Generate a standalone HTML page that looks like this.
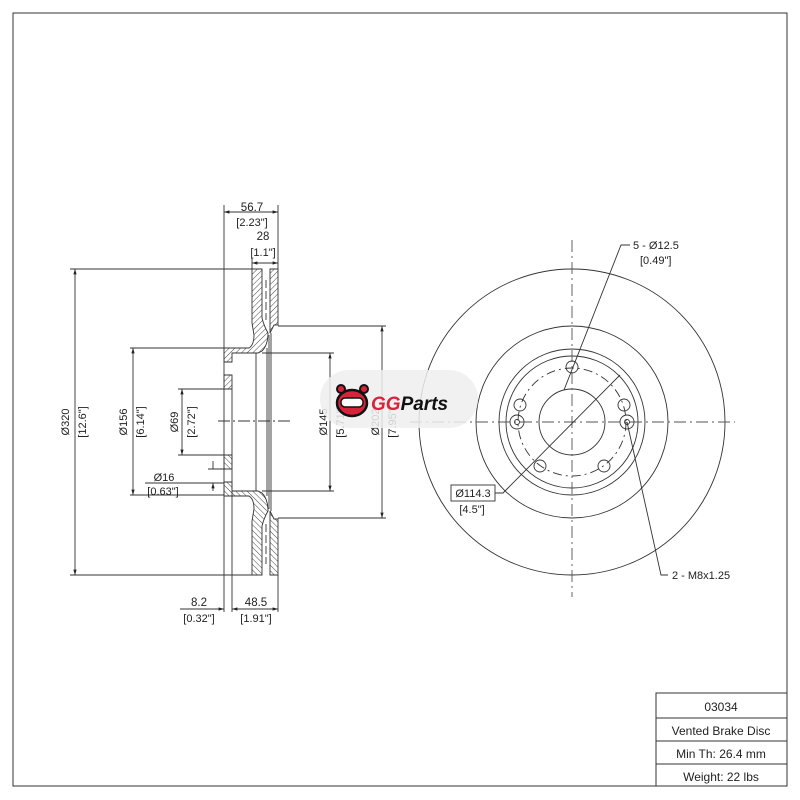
<!DOCTYPE html>
<html><head><meta charset="utf-8"><style>
html,body{margin:0;padding:0;background:#fff;}
svg{display:block;}
text{font-family:"Liberation Sans",sans-serif;fill:#222;}
</style></head><body>
<svg width="800" height="800" viewBox="0 0 800 800" xmlns="http://www.w3.org/2000/svg" font-size="11">
<defs>
<pattern id="h" patternUnits="userSpaceOnUse" width="4" height="4" patternTransform="rotate(45)">
<line x1="0" y1="0" x2="0" y2="4" stroke="#333" stroke-width="0.9"/>
</pattern>
<marker id="a" viewBox="0 0 10 10" refX="10" refY="5" markerWidth="6" markerHeight="6" orient="auto-start-reverse"><path d="M0,2 L10,5 L0,8z" fill="#222"/></marker>
</defs>
<rect x="13" y="13" width="774" height="773" fill="none" stroke="#333" stroke-width="1"/>
<g stroke="#333" fill="none" stroke-width="1">
<path d="M656,786 V693 H787 M656,718 H787 M656,741 H787 M656,764 H787"/>
</g>
<text x="721" y="711" text-anchor="middle" font-size="12">03034</text>
<text x="721" y="735" text-anchor="middle" font-size="12">Vented Brake Disc</text>
<text x="721" y="758" text-anchor="middle" font-size="12">Min Th: 26.4 mm</text>
<text x="721" y="781" text-anchor="middle" font-size="12">Weight: 22 lbs</text>

<g stroke="#333" stroke-width="0.9" fill="none">
<path d="M224,205 V612 M232,389 V612 M278,205 V269 M278,575 V612 M252,258 V269"/>
<path d="M70,269 H252 M70,575 H252 M130,348 H224 M130,495 H224 M178,389 H224 M178,455 H224 M145,483 H224 M208,469 H224"/>
<path d="M262,353 H334 M262,491 H334 M278,326 H386 M278,518 H386"/>
<path d="M256,353 V491 M267,348 V496 M269,335 V509 M271,333 V511"/>
<path d="M218,421 H290" stroke-dasharray="12,3,2,3"/>
<path d="M266,280 V320 M266,524 V564" stroke-dasharray="8,3"/>
<path d="M224,212 H278" marker-start="url(#a)" marker-end="url(#a)"/>
<path d="M252,263 H278" marker-start="url(#a)" marker-end="url(#a)"/>
<path d="M75,269 V575" marker-start="url(#a)" marker-end="url(#a)"/>
<path d="M133,348 V495" marker-start="url(#a)" marker-end="url(#a)"/>
<path d="M182,389 V455" marker-start="url(#a)" marker-end="url(#a)"/>
<path d="M213,461 V469 M213,491 V483" marker-end="url(#a)"/>
<path d="M330,353 V491" marker-start="url(#a)" marker-end="url(#a)"/>
<path d="M382,326 V518" marker-start="url(#a)" marker-end="url(#a)"/>
<path d="M180,609 H224" marker-end="url(#a)"/>
<path d="M232,609 H278" marker-start="url(#a)" marker-end="url(#a)"/>
</g>
<g stroke="#333" stroke-width="0.9" fill="url(#h)">
<g>
<path d="M252,269 H262 V318 Q264,326 268,333 Q268,345 262,351 L258,353 H232 V362 H224 V348 H249 Q254,345 254,335 L252,323 Z"/>
<path d="M224,375 H232 V389 H224 Z"/>
<path d="M270,269 H278 V325 H274 L270,333 Z"/>
</g>
<g transform="translate(0,844) scale(1,-1)">
<path d="M252,269 H262 V318 Q264,326 268,333 Q268,345 262,351 L258,353 H232 V362 H224 V348 H249 Q254,345 254,335 L252,323 Z"/>
<path d="M224,375 H232 V389 H224 Z"/>
<path d="M270,269 H278 V325 H274 L270,333 Z"/>
</g>
</g>
<text x="252" y="211" text-anchor="middle" font-size="11.5">56.7</text>
<text x="252" y="226" text-anchor="middle">[2.23"]</text>
<text x="263" y="240" text-anchor="middle" font-size="11.5">28</text>
<text x="263" y="256" text-anchor="middle">[1.1"]</text>
<text transform="translate(69,422) rotate(-90)" text-anchor="middle">Ø320</text>
<text transform="translate(86,422) rotate(-90)" text-anchor="middle">[12.6"]</text>
<text transform="translate(127,422) rotate(-90)" text-anchor="middle">Ø156</text>
<text transform="translate(144,422) rotate(-90)" text-anchor="middle">[6.14"]</text>
<text transform="translate(178,422) rotate(-90)" text-anchor="middle">Ø69</text>
<text transform="translate(195,422) rotate(-90)" text-anchor="middle">[2.72"]</text>
<text x="164" y="481" text-anchor="middle">Ø16</text>
<text x="163" y="495" text-anchor="middle">[0.63"]</text>
<text transform="translate(327,422) rotate(-90)" text-anchor="middle">Ø145</text>
<text transform="translate(344,422) rotate(-90)" text-anchor="middle">[5.71"]</text>
<text transform="translate(379,422) rotate(-90)" text-anchor="middle">Ø202</text>
<text transform="translate(396,422) rotate(-90)" text-anchor="middle">[7.95"]</text>
<text x="199" y="606" text-anchor="middle" font-size="11.5">8.2</text>
<text x="199" y="622" text-anchor="middle">[0.32"]</text>
<text x="256" y="606" text-anchor="middle" font-size="11.5">48.5</text>
<text x="256" y="622" text-anchor="middle">[1.91"]</text>

<g stroke="#333" stroke-width="0.9" fill="none">
<circle cx="572" cy="422" r="153"/>
<circle cx="572" cy="422" r="96"/>
<circle cx="572" cy="422" r="73"/>
<circle cx="572" cy="422" r="66"/>
<circle cx="572" cy="422" r="54" stroke-dasharray="9,4,2,4"/>
<circle cx="572" cy="422" r="33"/>
<circle cx="572" cy="367" r="6"/>
<circle cx="624" cy="405" r="6"/>
<circle cx="520" cy="405" r="6"/>
<circle cx="540" cy="466" r="6"/>
<circle cx="604" cy="466" r="6"/>
<circle cx="517" cy="422" r="7"/><circle cx="517" cy="422" r="2.5"/>
<circle cx="627" cy="422" r="7"/><circle cx="627" cy="422" r="2.5"/>
<path d="M572,240 V597 M410,422 H735" stroke-dasharray="12,4,2,4" stroke="#555"/>
<path d="M630,245 H621 L564,390"/>
<path d="M668,575 H661 L627,422"/>
<path d="M495,493 H503 L620,375"/>
<rect x="451" y="485" width="44" height="16"/>
</g>
<text x="633" y="249">5 - Ø12.5</text>
<text x="640" y="264">[0.49"]</text>
<text x="672" y="579">2 - M8x1.25</text>
<text x="473" y="497" text-anchor="middle">Ø114.3</text>
<text x="472" y="513" text-anchor="middle">[4.5"]</text>

<rect x="320" y="370" width="158" height="58" rx="29" fill="#eee" opacity="0.85"/>
<ellipse cx="352" cy="403" rx="15" ry="13" fill="#d8243a" stroke="#111" stroke-width="2.5"/>
<circle cx="341" cy="389" r="4" fill="#d8243a" stroke="#111" stroke-width="2"/>
<circle cx="364" cy="389" r="4" fill="#d8243a" stroke="#111" stroke-width="2"/>
<rect x="341" y="398" width="22" height="9" rx="4" fill="#fff" stroke="#111" stroke-width="1.5"/>
<text x="371" y="410" font-size="19" font-weight="bold" font-style="italic"><tspan fill="#d8243a">GG</tspan><tspan fill="#111">Parts</tspan></text>
</svg>
</body></html>
